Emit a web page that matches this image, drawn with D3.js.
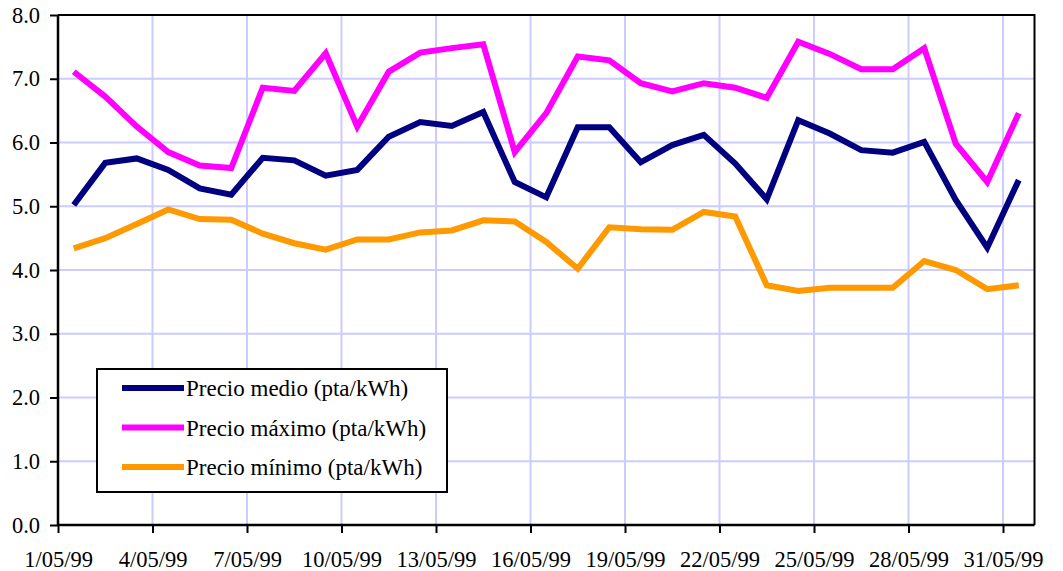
<!DOCTYPE html>
<meta charset="utf-8">
<script src="https://d3js.org/d3.v7.min.js"></script>
<style>
  body { margin: 0; background: #fff; }
  text { font-family: "Liberation Serif", "Times New Roman", serif; fill: #000; }
</style>
<div id="chart"></div>
<script>

// days of May 1999
var dates = [];
for (var d = 1; d <= 31; d++) dates.push(d + "/05/99");

// values (pta/kWh)
var medio  = [5.02,5.68,5.75,5.57,5.28,5.18,5.76,5.72,5.48,5.57,6.09,6.32,6.26,6.48,5.38,5.14,
              6.24,6.24,5.69,5.96,6.12,5.67,5.11,6.35,6.14,5.88,5.84,6.01,5.10,4.35,5.41];
var maximo = [7.11,6.72,6.25,5.85,5.64,5.60,6.86,6.81,7.40,6.25,7.11,7.41,7.48,7.54,5.85,6.46,
              7.35,7.29,6.93,6.80,6.93,6.86,6.70,7.58,7.39,7.15,7.15,7.48,5.98,5.38,6.46];
var minimo = [4.34,4.50,4.72,4.95,4.80,4.79,4.57,4.42,4.32,4.48,4.48,4.59,4.62,4.78,4.76,4.44,
              4.02,4.67,4.64,4.63,4.91,4.84,3.76,3.67,3.72,3.72,3.72,4.14,4.00,3.70,3.76];

var seriesNames  = ["Precio medio (pta/kWh)", "Precio máximo (pta/kWh)", "Precio mínimo (pta/kWh)"];
var seriesColors = ["#000080", "#ff00ff", "#ff9900"];
var yTicks = [0,1,2,3,4,5,6,7,8];

var series = [medio, maximo, minimo].map(function(v, i) {
  return {name: seriesNames[i], color: seriesColors[i], values: v};
});

var W = 1063, H = 571;
var margin = {top: 15, right: 28.5, bottom: 46, left: 58},
    width = W - margin.left - margin.right,
    height = H - margin.top - margin.bottom;
var serif = '"Liberation Serif", "Times New Roman", serif';

var svg = d3.select("#chart").append("svg")
    .attr("width", W)
    .attr("height", H)
  .append("g")
    .attr("transform", "translate(" + margin.left + "," + margin.top + ")");

// x: category index, each day one slot; ticks sit between slots
var x = d3.scaleLinear().domain([0, dates.length]).range([0, width]);
var y = d3.scaleLinear().domain([0, 8]).range([height, 0]);

var xTickIdx = d3.range(0, dates.length, 3);

// grid
svg.append("g").selectAll("line.h")
  .data(yTicks.slice(1, -1))
  .enter().append("line")
    .attr("x1", 0).attr("x2", width)
    .attr("y1", function(d){ return y(d); })
    .attr("y2", function(d){ return y(d); })
    .attr("stroke", "#ccccff").attr("stroke-width", 2);
svg.append("g").selectAll("line.v")
  .data(xTickIdx.slice(1))
  .enter().append("line")
    .attr("x1", function(d){ return x(d); })
    .attr("x2", function(d){ return x(d); })
    .attr("y1", 0).attr("y2", height)
    .attr("stroke", "#ccccff").attr("stroke-width", 2);

// top and right border
svg.append("path")
  .attr("d", "M0,0H" + width + "V" + height)
  .attr("fill", "none")
  .attr("stroke", "#000")
  .attr("stroke-width", 2);

// lines
var line = d3.line()
  .x(function(d, i){ return x(i + 0.5); })
  .y(function(d){ return y(d); });

svg.selectAll("path.series")
  .data(series)
  .enter().append("path")
    .attr("class", "series")
    .attr("fill", "none")
    .attr("stroke", function(d){ return d.color; })
    .attr("stroke-width", 6)
    .attr("stroke-linejoin", "miter")
    .attr("d", function(d){ return line(d.values); });

// axes
var yAxis = svg.append("g")
  .call(d3.axisLeft(y).tickValues(yTicks).tickFormat(d3.format(".1f")).tickSize(8).tickPadding(10));
var xAxis = svg.append("g")
  .attr("transform", "translate(0," + height + ")")
  .call(d3.axisBottom(x).tickValues(xTickIdx).tickFormat(function(i){ return dates[i]; })
        .tickSize(8).tickPadding(18));

[yAxis, xAxis].forEach(function(a) {
  a.attr("font-family", serif);
  a.select(".domain").attr("stroke", "#000").attr("stroke-width", 2.5);
  a.selectAll(".tick line").attr("stroke", "#000").attr("stroke-width", 2);
  a.selectAll("text")
    .style("font-family", serif)
    .style("font-size", "22.5px").attr("fill", "#000");
});
xAxis.select(".domain").attr("d", "M0,0H" + width);
yAxis.select(".domain").attr("d", "M0," + height + "V0");

// legend
var legend = svg.append("g")
  .attr("transform", "translate(" + (97 - margin.left) + "," + (369 - margin.top) + ")");
legend.append("rect")
  .attr("width", 350).attr("height", 123)
  .attr("fill", "#fff").attr("stroke", "#000").attr("stroke-width", 2);
var item = legend.selectAll("g.item")
  .data(series)
  .enter().append("g")
    .attr("transform", function(d, i){ return "translate(0," + (19 + i * 39.5) + ")"; });
item.append("line")
  .attr("x1", 25).attr("x2", 87)
  .attr("stroke", function(d){ return d.color; })
  .attr("stroke-width", 6);
item.append("text")
  .attr("x", 89).attr("dy", "0.35em")
  .style("font-family", serif)
  .style("font-size", "23px")
  .text(function(d){ return d.name; });

</script>
